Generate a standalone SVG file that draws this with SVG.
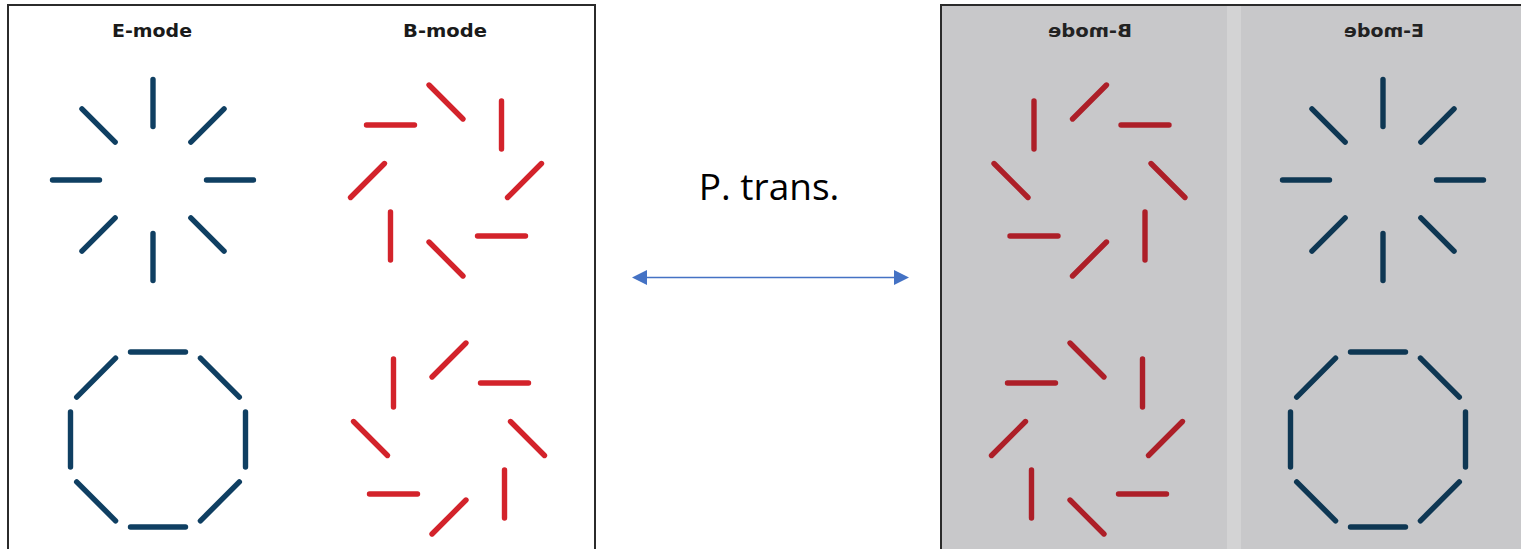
<svg xmlns="http://www.w3.org/2000/svg" xmlns:xlink="http://www.w3.org/1999/xlink" width="1521" height="549" viewBox="0 0 1521 549">
  <style>
    .frame { stroke: #2b2b2b; stroke-width: 2; }
    .seg { stroke-width: 5.4; stroke-linecap: round; fill: none; }
    .mode { font-family: "DejaVu Sans", "Liberation Sans", sans-serif; font-weight: bold; font-size: 18.5px; text-anchor: middle; }
    .big { font-family: "Open Sans", "Liberation Sans", sans-serif; font-size: 37px; fill: #000; text-anchor: middle; }
    .conn { stroke: #4472C4; stroke-width: 1.6; fill: none; }
  </style>
  <defs>
    <marker id="arrowhead" viewBox="0 0 15 15" refX="2" refY="7.5" markerWidth="15" markerHeight="15" markerUnits="userSpaceOnUse" orient="auto-start-reverse">
      <path d="M0,0 L15,7.5 L0,15 Z" fill="#4472C4"/>
    </marker>
    <!-- eight radial rays -->
    <g id="starburst" class="seg">
      <line x1="53.5" y1="0" x2="100.5" y2="0" transform="rotate(0)"/>
      <line x1="53.5" y1="0" x2="100.5" y2="0" transform="rotate(45)"/>
      <line x1="53.5" y1="0" x2="100.5" y2="0" transform="rotate(90)"/>
      <line x1="53.5" y1="0" x2="100.5" y2="0" transform="rotate(135)"/>
      <line x1="53.5" y1="0" x2="100.5" y2="0" transform="rotate(180)"/>
      <line x1="53.5" y1="0" x2="100.5" y2="0" transform="rotate(225)"/>
      <line x1="53.5" y1="0" x2="100.5" y2="0" transform="rotate(270)"/>
      <line x1="53.5" y1="0" x2="100.5" y2="0" transform="rotate(315)"/>
    </g>
    <!-- eight tangential sides -->
    <g id="octagon" class="seg">
      <line x1="87.5" y1="-27.5" x2="87.5" y2="27.5" transform="rotate(0)"/>
      <line x1="87.5" y1="-27.5" x2="87.5" y2="27.5" transform="rotate(45)"/>
      <line x1="87.5" y1="-27.5" x2="87.5" y2="27.5" transform="rotate(90)"/>
      <line x1="87.5" y1="-27.5" x2="87.5" y2="27.5" transform="rotate(135)"/>
      <line x1="87.5" y1="-27.5" x2="87.5" y2="27.5" transform="rotate(180)"/>
      <line x1="87.5" y1="-27.5" x2="87.5" y2="27.5" transform="rotate(225)"/>
      <line x1="87.5" y1="-27.5" x2="87.5" y2="27.5" transform="rotate(270)"/>
      <line x1="87.5" y1="-27.5" x2="87.5" y2="27.5" transform="rotate(315)"/>
    </g>
    <!-- segments tilted by +135 degrees -->
    <g id="pinwheelA" class="seg">
      <line x1="-24" y1="0" x2="24" y2="0" transform="rotate(0) translate(78.5,0) rotate(135)"/>
      <line x1="-24" y1="0" x2="24" y2="0" transform="rotate(45) translate(78.5,0) rotate(135)"/>
      <line x1="-24" y1="0" x2="24" y2="0" transform="rotate(90) translate(78.5,0) rotate(135)"/>
      <line x1="-24" y1="0" x2="24" y2="0" transform="rotate(135) translate(78.5,0) rotate(135)"/>
      <line x1="-24" y1="0" x2="24" y2="0" transform="rotate(180) translate(78.5,0) rotate(135)"/>
      <line x1="-24" y1="0" x2="24" y2="0" transform="rotate(225) translate(78.5,0) rotate(135)"/>
      <line x1="-24" y1="0" x2="24" y2="0" transform="rotate(270) translate(78.5,0) rotate(135)"/>
      <line x1="-24" y1="0" x2="24" y2="0" transform="rotate(315) translate(78.5,0) rotate(135)"/>
    </g>
    <!-- segments tilted by +45 degrees -->
    <g id="pinwheelB" class="seg">
      <line x1="-24" y1="0" x2="24" y2="0" transform="rotate(0) translate(78.5,0) rotate(45)"/>
      <line x1="-24" y1="0" x2="24" y2="0" transform="rotate(45) translate(78.5,0) rotate(45)"/>
      <line x1="-24" y1="0" x2="24" y2="0" transform="rotate(90) translate(78.5,0) rotate(45)"/>
      <line x1="-24" y1="0" x2="24" y2="0" transform="rotate(135) translate(78.5,0) rotate(45)"/>
      <line x1="-24" y1="0" x2="24" y2="0" transform="rotate(180) translate(78.5,0) rotate(45)"/>
      <line x1="-24" y1="0" x2="24" y2="0" transform="rotate(225) translate(78.5,0) rotate(45)"/>
      <line x1="-24" y1="0" x2="24" y2="0" transform="rotate(270) translate(78.5,0) rotate(45)"/>
      <line x1="-24" y1="0" x2="24" y2="0" transform="rotate(315) translate(78.5,0) rotate(45)"/>
    </g>
  </defs>

  <rect width="1521" height="549" fill="#ffffff"/>

  <!-- left panel: original patterns -->
  <g id="panel-original">
    <rect class="frame" x="8" y="5" width="587" height="570" fill="#ffffff"/>
    <g id="orig-e-head"><text class="mode" x="152" y="37" fill="#1a1a1a" textLength="80" lengthAdjust="spacingAndGlyphs">E-mode</text></g>
    <g id="orig-b-head"><text class="mode" x="445" y="37" fill="#1a1a1a" textLength="84" lengthAdjust="spacingAndGlyphs">B-mode</text></g>
    <g id="orig-e-radial"><use xlink:href="#starburst" href="#starburst" transform="translate(153,180)" stroke="#0f3f62"/></g>
    <g id="orig-b-top"><use xlink:href="#pinwheelA" href="#pinwheelA" transform="translate(446,180.5)" stroke="#d3232b"/></g>
    <g id="orig-e-ring"><use xlink:href="#octagon" href="#octagon" transform="translate(158,439.5)" stroke="#0f3f62"/></g>
    <g id="orig-b-bottom"><use xlink:href="#pinwheelB" href="#pinwheelB" transform="translate(449,438.5)" stroke="#d3232b"/></g>
  </g>

  <!-- right panel: mirrored patterns on grey -->
  <g id="panel-mirrored">
    <rect class="frame" x="941" y="5" width="600" height="570" fill="#c8c8ca"/>
    <rect x="1227" y="6" width="14" height="560" fill="#d3d3d4"/>
    <g transform="translate(1536,0) scale(-1,1)">
      <g id="mirr-e-head"><text class="mode" x="152" y="37" fill="#222222" textLength="80" lengthAdjust="spacingAndGlyphs">E-mode</text></g>
      <g id="mirr-b-head"><text class="mode" x="446" y="37" fill="#222222" textLength="84" lengthAdjust="spacingAndGlyphs">B-mode</text></g>
      <g id="mirr-e-radial"><use xlink:href="#starburst" href="#starburst" transform="translate(153,180)" stroke="#0e3753"/></g>
      <g id="mirr-b-top"><use xlink:href="#pinwheelA" href="#pinwheelA" transform="translate(446.5,180.5)" stroke="#ad1f28"/></g>
      <g id="mirr-e-ring"><use xlink:href="#octagon" href="#octagon" transform="translate(158,439.5)" stroke="#0e3753"/></g>
      <g id="mirr-b-bottom"><use xlink:href="#pinwheelB" href="#pinwheelB" transform="translate(449,438.5)" stroke="#ad1f28"/></g>
    </g>
  </g>

  <!-- transform label -->
  <g id="label-ptrans">
    <text class="big" x="769" y="200">P. trans.</text>
  </g>

  <!-- connectors -->
  <g id="connectors">
    <line class="conn" x1="645" y1="277.5" x2="896" y2="277.5" marker-start="url(#arrowhead)" marker-end="url(#arrowhead)"/>
  </g>
</svg>
